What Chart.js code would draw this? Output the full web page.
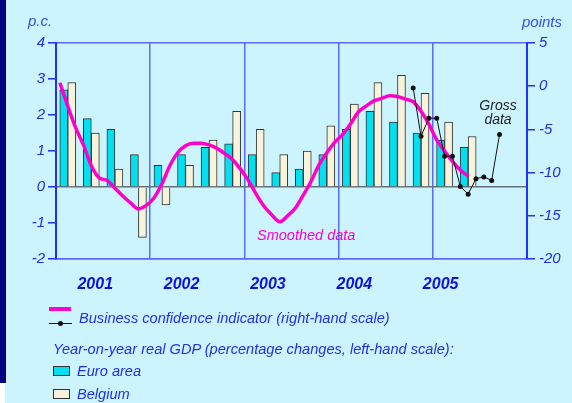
<!DOCTYPE html>
<html>
<head>
<meta charset="utf-8">
<script src="https://cdn.jsdelivr.net/npm/chart.js@4/dist/chart.umd.min.js"></script>
<style>
  html, body { margin: 0; padding: 0; }
  body { width: 572px; height: 403px; overflow: hidden; position: relative; background: #ccf4ff;
         font-family: "Liberation Sans", Arial, sans-serif; }
  #chart { position: absolute; left: 0; top: 0; }
  .txt { position: absolute; font-style: italic; white-space: nowrap; line-height: 16px; font-size: 14.6px; color: #1f2fe8; }
  .sw { position: absolute; }
</style>
</head>
<body>
<div class="sw" style="left:0;top:0;width:6px;height:383px;background:#000080"></div>
<div class="sw" style="left:0;top:383px;width:5px;height:20px;background:#fff"></div>
<canvas id="chart" width="572" height="403"></canvas>

<div class="txt" style="left:28px;top:13px;font-size:15px;color:#3050ee">p.c.</div>
<div class="txt" style="left:522px;top:14px;font-size:15px;color:#3050ee">points</div>
<div class="txt" style="left:257px;top:227px;font-size:14.5px;color:#ff00cc">Smoothed data</div>
<div class="txt" style="left:470px;top:98px;width:56px;text-align:center;font-size:14px;line-height:14px;color:#222">Gross<br>data</div>

<div class="sw" style="left:49px;top:307px;width:22px;height:4px;background:#ff00cc"></div>
<div class="sw" style="left:49px;top:323px;width:23px;height:1px;background:#111"></div>
<div class="sw" style="left:58px;top:321px;width:5px;height:5px;border-radius:50%;background:#111"></div>
<div class="txt" style="left:79px;top:310px">Business confidence indicator (right-hand scale)</div>
<div class="txt" style="left:53px;top:341px">Year-on-year real GDP (percentage changes, left-hand scale):</div>
<div class="sw" style="left:53px;top:366px;width:15px;height:8px;background:#00e0f0;border:1px solid #333"></div>
<div class="txt" style="left:77px;top:363px">Euro area</div>
<div class="sw" style="left:53px;top:389px;width:15px;height:8px;background:#f8f3dc;border:1px solid #333"></div>
<div class="txt" style="left:77px;top:386px">Belgium</div>

<script>
const years = ['2001', '2002', '2003', '2004', '2005'];
const quarters = [
  '2001Q1', '2001Q2', '2001Q3', '2001Q4',
  '2002Q1', '2002Q2', '2002Q3', '2002Q4',
  '2003Q1', '2003Q2', '2003Q3', '2003Q4',
  '2004Q1', '2004Q2', '2004Q3', '2004Q4',
  '2005Q1', '2005Q2', '2005Q3', '2005Q4'
];
// real GDP y-o-y, p.c. (left scale)
const euroArea = [2.7, 1.9, 1.6, 0.9, 0.6, 0.9, 1.1, 1.2, 0.9, 0.4, 0.5, 0.9, 1.6, 2.1, 1.8, 1.5, 1.3, 1.1];
const belgium = [2.9, 1.5, 0.5, -1.4, -0.5, 0.6, 1.3, 2.1, 1.6, 0.9, 1.0, 1.7, 2.3, 2.9, 3.1, 2.6, 1.8, 1.4];
// business confidence, points (right scale), monthly from Jan 2001
const smoothed = [
  0.4, -2.3, -4.8, -6.8, -9.2, -10.6, -10.9, -11.8, -12.7, -13.5, -14.2, -13.8,
  -12.9, -11.3, -9.2, -7.7, -6.9, -6.6, -6.6, -6.8, -7.2, -7.8, -8.5, -9.6,
  -10.9, -12.5, -13.9, -14.9, -15.7, -15.0, -14.1, -12.6, -11.0, -9.1, -7.7, -6.5,
  -5.6, -4.4, -3.0, -2.3, -1.7, -1.4, -1.1, -1.2, -1.5, -1.8, -2.9, -4.4,
  -6.2, -7.5, -8.7, -9.7, -10.4
];
// gross data, monthly from Oct 2004
const grossStart = 45;
const gross = [-0.2, -5.8, -3.7, -3.7, -8.1, -8.1, -11.6, -12.5, -10.7, -10.5, -10.9, -5.6];

const blue = '#5a6aff';
const axisBlue = '#2030ff';
const tickBlue = '#1f2fe8';
const tickFont = { family: '"Liberation Sans", Arial, sans-serif', size: 15, style: 'italic' };

// x axis runs in months (0 = Jan 2001); a quarter's bars sit side by side round its centre
const barW = 8;
const halfBar = 0.51;
const quarterMid = q => 3 * q + 1.5;
const labelAt = i => 5 + 11 * i;  // year labels sit a little left of the year centres

new Chart(document.getElementById('chart'), {
  type: 'bar',
  data: {
    datasets: [
      {
        label: 'Euro area', xAxisID: 'xm', yAxisID: 'yl', grouped: false, barThickness: barW,
        data: euroArea.map((v, q) => ({ x: quarterMid(q) - halfBar, y: v })),
        backgroundColor: '#00e0f0', borderColor: '#333', borderWidth: 1, order: 2
      },
      {
        label: 'Belgium', xAxisID: 'xm', yAxisID: 'yl', grouped: false, barThickness: barW,
        data: belgium.map((v, q) => ({ x: quarterMid(q) + halfBar, y: v })),
        backgroundColor: '#f8f3dc', borderColor: '#333', borderWidth: 1, order: 2
      },
      {
        type: 'line', label: 'Smoothed', xAxisID: 'xm', yAxisID: 'yr', grouped: false,
        data: smoothed.map((v, i) => ({ x: i + 0.5, y: v })),
        borderColor: '#ff00cc', borderWidth: 3.5, pointRadius: 0,
        cubicInterpolationMode: 'monotone', order: 1
      },
      {
        type: 'line', label: 'Gross', xAxisID: 'xm', yAxisID: 'yr', grouped: false,
        data: gross.map((v, i) => ({ x: grossStart + i + 0.5, y: v })),
        borderColor: '#111', borderWidth: 1, pointRadius: 2.5, pointBackgroundColor: '#111',
        pointBorderWidth: 0, tension: 0, order: 0
      }
    ]
  },
  options: {
    responsive: false,
    animation: false,
    devicePixelRatio: 1,
    layout: { padding: { top: 43, left: 0, right: 0, bottom: 0 } },
    plugins: { legend: { display: false }, tooltip: { enabled: false } },
    scales: {
      xm: {
        type: 'linear', position: 'bottom', min: 0, max: 60, offset: false,
        afterBuildTicks: s => {
          const t = [0, 12, 24, 36, 48, 60].map(v => ({ value: v }));
          years.forEach((y, i) => t.push({ value: labelAt(i) }));
          s.ticks = t.sort((a, b) => a.value - b.value);
        },
        ticks: {
          autoSkip: false, maxRotation: 0, minRotation: 0, padding: 16,
          callback: v => {
            const i = years.findIndex((y, k) => labelAt(k) === v);
            return i >= 0 ? years[i] : '';
          },
          color: '#1010e0',
          font: { family: '"Liberation Sans", Arial, sans-serif', size: 16, style: 'italic', weight: 'bold' }
        },
        grid: {
          offset: false, drawTicks: false, lineWidth: 1.5,
          color: c => (c.tick && c.tick.value % 12 === 0 ? blue : 'transparent')
        },
        border: { color: blue, width: 1.5 },
        afterFit: s => { s.height = 144; }
      },
      yl: {
        position: 'left', min: -2, max: 4,
        ticks: { stepSize: 1, color: tickBlue, font: tickFont, padding: 3 },
        grid: {
          tickLength: 8, tickColor: axisBlue, lineWidth: 1.5,
          color: c => {
            const v = c.tick ? c.tick.value : null;
            if (v === 0) return '#667077';
            if (v === 4 || v === -2) return blue;
            return 'transparent';
          }
        },
        border: { color: axisBlue, width: 2 },
        afterFit: s => { s.width = 56; }
      },
      yr: {
        position: 'right', min: -20, max: 5,
        ticks: { stepSize: 5, color: tickBlue, font: tickFont, padding: 4 },
        grid: { drawOnChartArea: false, tickLength: 8, tickColor: axisBlue, lineWidth: 1.5 },
        border: { color: axisBlue, width: 2 },
        afterFit: s => { s.width = 45; }
      }
    }
  }
});
</script>
</body>
</html>
